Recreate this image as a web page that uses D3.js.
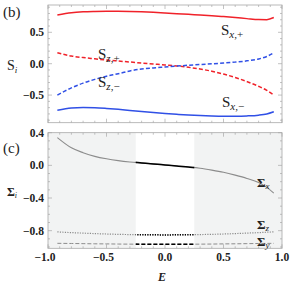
<!DOCTYPE html>
<html>
<head>
<meta charset="utf-8">
<script src="https://cdn.jsdelivr.net/npm/d3@7"></script>
<style>
  body { margin: 0; background: #fff; }
  svg { display: block; }
  text { font-family: 'Liberation Serif', 'DejaVu Serif', serif; }
</style>
</head>
<body>
<div id="chart"></div>
<script>
// energy grid shared by every curve
const energies = [-0.92, -0.8, -0.7, -0.6, -0.5, -0.4, -0.3, -0.2, -0.1, 0, 0.1, 0.2, 0.3, 0.4, 0.5, 0.6, 0.7, 0.8, 0.87, 0.93];

// panel (b)
const sxPlus  = [0.775, 0.812, 0.826, 0.832, 0.835, 0.835, 0.832, 0.826, 0.818, 0.808, 0.797, 0.786, 0.775, 0.764, 0.75, 0.735, 0.718, 0.703, 0.702, 0.735];
const sxMinus = [-0.74, -0.705, -0.696, -0.7, -0.712, -0.727, -0.745, -0.762, -0.778, -0.793, -0.806, -0.818, -0.827, -0.833, -0.836, -0.836, -0.832, -0.82, -0.8, -0.765];
const szPlus  = [0.175, 0.122, 0.098, 0.078, 0.058, 0.042, 0.027, 0.01, -0.005, -0.02, -0.035, -0.058, -0.085, -0.12, -0.165, -0.22, -0.285, -0.36, -0.425, -0.5];
const szMinus = [-0.5, -0.385, -0.31, -0.25, -0.2, -0.16, -0.115, -0.085, -0.068, -0.053, -0.038, -0.025, -0.013, -0.002, 0.01, 0.025, 0.045, 0.075, 0.115, 0.175];

// panel (c)
const sigmaX = [0.34, 0.215, 0.155, 0.11, 0.08, 0.058, 0.042, 0.03, 0.018, 0.005, -0.008, -0.02, -0.035, -0.058, -0.085, -0.12, -0.16, -0.21, -0.27, -0.34];
const sigmaZ = [-0.815, -0.824, -0.83, -0.836, -0.841, -0.845, -0.848, -0.85, -0.851, -0.852, -0.851, -0.85, -0.848, -0.845, -0.841, -0.836, -0.83, -0.824, -0.819, -0.815];
const sigmaY = [-0.955, -0.957, -0.959, -0.961, -0.962, -0.964, -0.965, -0.966, -0.967, -0.967, -0.967, -0.966, -0.965, -0.964, -0.962, -0.961, -0.959, -0.957, -0.956, -0.955];

// shaded energy windows in panel (c)
const shadedRanges = [[-1, -0.25], [0.25, 1]];
const middleRange = [-0.25, 0.25];

const xTicks = [-1, -0.5, 0, 0.5, 1];
const topYTicks = [-0.5, 0, 0.5];
const bottomYTicks = [-0.8, -0.4, 0, 0.4];

const WIDTH = 291;
const HEIGHT = 285;

const svg = d3.select('#chart').append('svg').attr('width', WIDTH).attr('height', HEIGHT);

const xScale = d3.scaleLinear().domain([-1, 1]).range([48, 282]);
const yTop = d3.scaleLinear().domain([-0.94, 0.935]).range([122.7, 5]);
const yBottom = d3.scaleLinear().domain([-1.016, 0.4]).range([248.3, 132.7]);

const fmt = (v) => (v < 0 ? '\u2212' : '') + Math.abs(v).toFixed(1);

const drawFrame = (yScale, yTicks, withXLabels) => {
  const [x0, x1] = xScale.range();
  const [y0, y1] = yScale.range();
  const g = svg.append('g');
  const tickColor = '#9a9a9a';

  // minor + major ticks on all sides, pointing inward
  d3.range(-10, 11).forEach((i) => {
    const v = i / 10;
    const len = i % 5 === 0 ? 4 : 2;
    const x = xScale(v);
    g.append('line').attr('x1', x).attr('x2', x).attr('y1', y0).attr('y2', y0 - len).attr('stroke', tickColor).attr('stroke-width', 0.6);
    g.append('line').attr('x1', x).attr('x2', x).attr('y1', y1).attr('y2', y1 + len).attr('stroke', tickColor).attr('stroke-width', 0.6);
  });
  const [d0, d1] = yScale.domain();
  d3.range(Math.ceil(d0 * 10), Math.floor(d1 * 10) + 1).forEach((i) => {
    const v = i / 10;
    const major = yTicks.some((t) => Math.abs(t - v) < 1e-9);
    const len = major ? 4 : 2;
    const y = yScale(v);
    g.append('line').attr('x1', x0).attr('x2', x0 + len).attr('y1', y).attr('y2', y).attr('stroke', tickColor).attr('stroke-width', 0.6);
    g.append('line').attr('x1', x1).attr('x2', x1 - len).attr('y1', y).attr('y2', y).attr('stroke', tickColor).attr('stroke-width', 0.6);
  });

  g.append('rect')
    .attr('x', x0).attr('y', y1)
    .attr('width', x1 - x0).attr('height', y0 - y1)
    .attr('fill', 'none').attr('stroke', '#a8a8a8').attr('stroke-width', 0.8);

  g.selectAll('text.ytick')
    .data(yTicks)
    .join('text')
    .attr('x', x0 - 4)
    .attr('y', (d) => yScale(d) + 4)
    .attr('text-anchor', 'end')
    .attr('font-size', 11.5)
    .attr('font-weight', 'bold')
    .attr('fill', '#222')
    .text(fmt);

  if (withXLabels) {
    g.selectAll('text.xtick')
      .data(xTicks)
      .join('text')
      .attr('x', (d) => xScale(d) - (d < 0 ? 3 : 0))
      .attr('y', y0 + 13)
      .attr('text-anchor', 'middle')
      .attr('font-size', 11.5)
      .attr('font-weight', 'bold')
      .attr('fill', '#222')
      .text(fmt);
  }
};

// shading for panel (c)
svg.selectAll('rect.shade')
  .data(shadedRanges)
  .join('rect')
  .attr('x', (d) => xScale(d[0]))
  .attr('y', yBottom.range()[1])
  .attr('width', (d) => xScale(d[1]) - xScale(d[0]))
  .attr('height', yBottom.range()[0] - yBottom.range()[1])
  .attr('fill', '#f2f3f3');

drawFrame(yTop, topYTicks, false);
drawFrame(yBottom, bottomYTicks, true);

const lineFor = (yScale) => d3.line().x((d) => xScale(d[0])).y((d) => yScale(d[1])).curve(d3.curveMonotoneX);
const pairs = (values) => energies.map((e, i) => [e, values[i]]);

// panel (b) curves
const topCurves = [
  { values: sxPlus, color: '#f0222a', dash: null },
  { values: sxMinus, color: '#3050e6', dash: null },
  { values: szPlus, color: '#f0222a', dash: '4,2.2' },
  { values: szMinus, color: '#3050e6', dash: '4,2.2' },
];
topCurves.forEach((c) => {
  svg.append('path')
    .attr('d', lineFor(yTop)(pairs(c.values)))
    .attr('fill', 'none')
    .attr('stroke', c.color)
    .attr('stroke-width', 1.5)
    .attr('stroke-dasharray', c.dash);
});

// panel (c) curves: grey everywhere, black in the middle window
svg.append('clipPath').attr('id', 'mid-clip')
  .append('rect')
  .attr('x', xScale(middleRange[0]))
  .attr('y', 0)
  .attr('width', xScale(middleRange[1]) - xScale(middleRange[0]))
  .attr('height', HEIGHT);

const bottomCurves = [
  { values: sigmaX, dash: null, width: 1.1, midWidth: 1.5 },
  { values: sigmaZ, dash: '1.2,1.3', width: 1.2, midWidth: 1.5 },
  { values: sigmaY, dash: '4,2', width: 1, midWidth: 1.6 },
];
bottomCurves.forEach((c) => {
  const d = lineFor(yBottom)(pairs(c.values));
  svg.append('path')
    .attr('d', d)
    .attr('fill', 'none')
    .attr('stroke', '#8c8c8c')
    .attr('stroke-width', c.width)
    .attr('stroke-dasharray', c.dash);
  svg.append('path')
    .attr('d', d)
    .attr('clip-path', 'url(#mid-clip)')
    .attr('fill', 'none')
    .attr('stroke', '#000')
    .attr('stroke-width', c.midWidth)
    .attr('stroke-dasharray', c.dash);
});

// labels
const label = (x, y, main, sub, opts = {}) => {
  const t = svg.append('text')
    .attr('x', x).attr('y', y)
    .attr('font-size', opts.size || 15)
    .attr('fill', '#222');
  t.append('tspan').attr('font-weight', opts.bold ? 'bold' : 'normal').text(main);
  const s = t.append('tspan').attr('dy', opts.subDy || 3).attr('font-size', opts.subSize || 11);
  sub.forEach((part) => {
    s.append('tspan').attr('font-style', part.italic ? 'italic' : 'normal').text(part.text);
  });
};

label(221, 35, 'S', [{ text: 'x', italic: true }, { text: ',+' }]);
label(222, 107, 'S', [{ text: 'x', italic: true }, { text: ',\u2212' }]);
label(98, 59, 'S', [{ text: 'z', italic: true }, { text: ',+' }]);
label(98, 87, 'S', [{ text: 'z', italic: true }, { text: ',\u2212' }]);
label(7, 70, 'S', [{ text: 'i', italic: true }], { size: 14, subSize: 9 });

label(257, 187, '\u03a3', [{ text: 'x', italic: true }], { bold: true, size: 13, subSize: 9, subDy: 2 });
label(257, 229, '\u03a3', [{ text: 'z', italic: true }], { bold: true, size: 13, subSize: 9, subDy: 2 });
label(257, 246, '\u03a3', [{ text: 'y', italic: true }], { bold: true, size: 13, subSize: 9, subDy: 2 });
label(7, 196, '\u03a3', [{ text: 'i', italic: true }], { bold: true, size: 12, subSize: 8, subDy: 2 });

svg.append('text').attr('x', 3).attr('y', 17).attr('font-size', 15).attr('fill', '#222').text('(b)');
svg.append('text').attr('x', 3).attr('y', 153).attr('font-size', 15).attr('fill', '#222').text('(c)');
svg.append('text').attr('x', 162).attr('y', 281).attr('font-size', 12).attr('font-weight', 'bold')
  .attr('font-style', 'italic').attr('text-anchor', 'middle').attr('fill', '#222').text('E');
</script>
</body>
</html>
